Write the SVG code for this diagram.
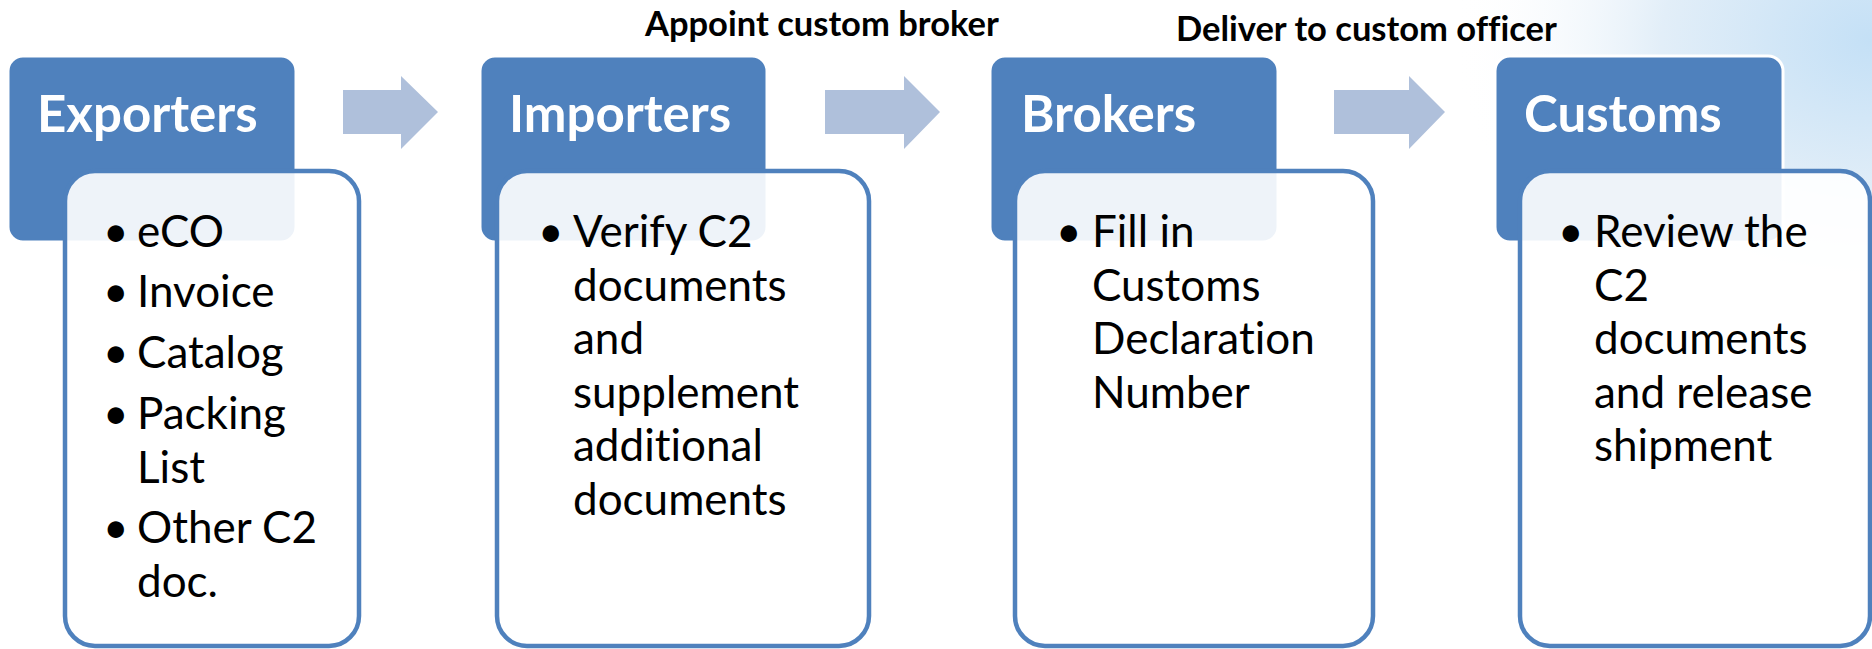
<svg xmlns="http://www.w3.org/2000/svg" width="1872" height="649" viewBox="0 0 1872 649">
<defs>
<radialGradient id="bg" cx="1872" cy="40" r="420" gradientUnits="userSpaceOnUse" gradientTransform="translate(1872 40) scale(1 0.75) translate(-1872 -40)">
<stop offset="0" stop-color="#C4E0F6"/>
<stop offset="0.5" stop-color="#E2EEF8"/>
<stop offset="1" stop-color="#FFFFFF" stop-opacity="0"/>
</radialGradient>
</defs>
<style>
text{font-variant-ligatures:none}
.hdr{fill:#4F81BD;stroke:#FFFFFF;stroke-width:3}
.body{fill:#FFFFFF;fill-opacity:0.9;stroke:#4F81BD;stroke-width:4.5}
.htxt{font-family:Lato,"Liberation Sans",sans-serif;font-weight:bold;font-size:51px;fill:#FFFFFF}
.btxt{font-family:Lato,"Liberation Sans",sans-serif;font-size:44px;fill:#000000}
.lbl{font-family:Lato,"Liberation Sans",sans-serif;font-weight:bold;font-size:34.5px;fill:#000000}
.arr{fill:#AFC0DB}
</style>
<rect width="1872" height="649" fill="#FFFFFF"/>
<rect x="1300" y="0" width="572" height="360" fill="url(#bg)"/>

<g id="connectors">
<polygon class="arr" points="343,90 401,90 401,76 438,112 401,149 401,134 343,134"/>
<polygon class="arr" points="825,90 904,90 904,76 940,112 904,149 904,134 825,134"/>
<polygon class="arr" points="1334,90 1409,90 1409,76 1445,112 1409,149 1409,134 1334,134"/>
</g>

<g id="labels">
<text class="lbl" x="645" y="36">Appoint custom broker</text>
<text class="lbl" x="1176" y="41">Deliver to custom officer</text>
</g>

<g id="exporters">
<rect class="hdr" x="8" y="56" width="288" height="186" rx="15"/>
<text class="htxt" x="37" y="132">Exporters</text>
<rect class="body" x="65" y="171" width="294" height="475" rx="30"/>
<text class="btxt">
<tspan x="103" y="247">•</tspan><tspan x="137" y="247">eCO</tspan>
<tspan x="103" y="307">•</tspan><tspan x="137" y="307">Invoice</tspan>
<tspan x="103" y="368">•</tspan><tspan x="137" y="368">Catalog</tspan>
<tspan x="103" y="429">•</tspan><tspan x="137" y="429">Packing</tspan>
<tspan x="137" y="483">List</tspan>
<tspan x="103" y="543">•</tspan><tspan x="137" y="543">Other C2</tspan>
<tspan x="137" y="597">doc.</tspan>
</text>
</g>

<g id="importers">
<rect class="hdr" x="480" y="56" width="287" height="186" rx="15"/>
<text class="htxt" x="509" y="132">Importers</text>
<rect class="body" x="497" y="171" width="372" height="475" rx="30"/>
<text class="btxt">
<tspan x="538" y="247">•</tspan><tspan x="573" y="247">Verify C2</tspan>
<tspan x="573" y="301">documents</tspan>
<tspan x="573" y="354">and</tspan>
<tspan x="573" y="408">supplement</tspan>
<tspan x="573" y="461">additional</tspan>
<tspan x="573" y="515">documents</tspan>
</text>
</g>

<g id="brokers">
<rect class="hdr" x="990" y="56" width="288" height="186" rx="15"/>
<text class="htxt" x="1021" y="132">Brokers</text>
<rect class="body" x="1015" y="171" width="358" height="475" rx="30"/>
<text class="btxt">
<tspan x="1056" y="247">•</tspan><tspan x="1092" y="247">Fill in</tspan>
<tspan x="1092" y="301">Customs</tspan>
<tspan x="1092" y="354">Declaration</tspan>
<tspan x="1092" y="408">Number</tspan>
</text>
</g>

<g id="customs">
<rect class="hdr" x="1495" y="56" width="288" height="186" rx="15"/>
<text class="htxt" x="1524" y="132">Customs</text>
<rect class="body" x="1520" y="171" width="350" height="475" rx="30"/>
<text class="btxt">
<tspan x="1558" y="247">•</tspan><tspan x="1594" y="247">Review the</tspan>
<tspan x="1594" y="301">C2</tspan>
<tspan x="1594" y="354">documents</tspan>
<tspan x="1594" y="408">and release</tspan>
<tspan x="1594" y="461">shipment</tspan>
</text>
</g>
</svg>
